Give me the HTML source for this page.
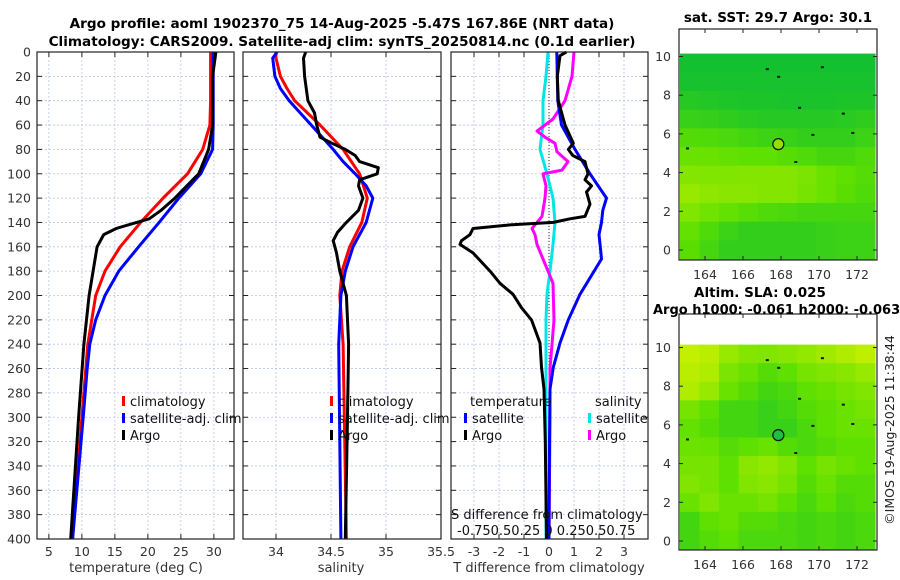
<!DOCTYPE html>
<html><head><meta charset="utf-8">
<style>
html,body{margin:0;padding:0;background:#fff;}
svg{display:block;font-family:"DejaVu Sans","Liberation Sans",sans-serif;}
</style></head>
<body>
<svg id="fig" width="900" height="580" viewBox="0 0 900 580" xmlns="http://www.w3.org/2000/svg">
<rect width="900" height="580" fill="#fff"/>
<text x="342" y="28" text-anchor="middle" font-size="13.6" font-weight="bold" fill="#000">Argo profile: aoml 1902370_75 14-Aug-2025 -5.47S 167.86E (NRT data)</text>
<text x="342" y="46" text-anchor="middle" font-size="13.6" font-weight="bold" fill="#000">Climatology: CARS2009. Satellite-adj clim: synTS_20250814.nc (0.1d earlier)</text>
<g id="panels"></g>
<g id="maps"></g>
<text transform="translate(894,430) rotate(-90)" text-anchor="middle" font-size="12.5" fill="#222">©IMOS 19-Aug-2025 11:38:44</text>
</svg>
<script>
// ---------- data ----------
const depthTicks=[0,20,40,60,80,100,120,140,160,180,200,220,240,260,280,300,320,340,360,380,400];
const tempTicks=[5,10,15,20,25,30];
const salTicks=[34,34.5,35,35.5];
const tdiffTicks=[-3,-2,-1,0,1,2,3];

const climTdepth=[0,20,40,60,80,100,120,140,160,180,200,240,300,400];
const climT=[29.5,29.5,29.5,29.4,28.3,26.0,22.3,18.9,15.8,13.5,12.1,10.9,10.0,8.6];
const satTdepth=[0,20,40,60,80,100,120,140,160,180,200,220,240,260,300,400];
const satT=[29.9,29.9,29.9,29.9,29.8,28.0,24.7,21.7,18.6,15.6,13.5,12.1,11.2,10.8,10.2,8.6];
const argoTdepth=[0,20,40,60,80,100,120,130,137,142,145,150,160,180,200,240,300,400];
const argoT=[30.3,29.8,29.8,29.8,29.2,27.7,24.1,22.0,20.2,17.0,15.2,13.3,12.3,11.7,11.1,10.3,9.5,8.3];

const climSdepth=[0,5,20,30,40,60,80,100,120,140,160,180,200,240,400];
const climS=[34.0,34.0,34.04,34.1,34.17,34.4,34.61,34.76,34.83,34.78,34.67,34.6,34.58,34.61,34.64];
const satSdepth=[0,5,20,30,40,60,80,90,100,110,120,140,160,180,200,240,400];
const satS=[34.01,33.97,33.99,34.04,34.12,34.32,34.52,34.61,34.72,34.82,34.88,34.82,34.7,34.63,34.59,34.57,34.59];
const argoSdepth=[0,5,20,40,50,60,70,75,80,85,90,95,100,105,110,120,130,140,148,155,165,180,200,240,300,400];
const argoS=[34.27,34.25,34.26,34.29,34.35,34.37,34.4,34.51,34.63,34.72,34.76,34.93,34.92,34.76,34.75,34.79,34.75,34.64,34.56,34.52,34.55,34.58,34.64,34.66,34.65,34.63];

const dTdepth=[0,3,20,40,60,75,80,85,90,100,105,110,115,125,135,137,140,142,145,150,155,158,165,180,190,199,210,220,239,259,277,320,400];
const dTargo=[0.7,0.44,0.33,0.37,0.64,0.97,0.77,0.95,1.44,1.56,1.44,1.7,1.5,1.64,1.44,0.84,0.17,-1.56,-3.04,-3.16,-3.5,-3.56,-3.04,-2.36,-1.96,-1.44,-1.1,-0.7,-0.36,-0.3,-0.2,-0.15,-0.1];
const dTsatDepth=[0,40,60,80,100,120,130,140,150,160,170,199,220,239,259,277,320,400];
const dTsat=[0.31,0.35,0.5,1.04,1.64,2.3,2.15,2.1,2.0,2.05,2.1,1.24,0.77,0.44,0.17,0.04,0.02,0.0];
const dSsatDepth=[0,20,40,60,80,100,120,140,158,180,199,220,260,300,400];
const dSsat=[-0.01,-0.03,-0.06,-0.06,-0.09,-0.02,0.04,0.06,0.04,0.01,-0.02,-0.03,-0.03,-0.03,-0.03];
const dSargoDepth=[0,20,40,55,65,70,75,82,90,97,100,110,120,135,140,145,150,158,170,180,190,220,240,260,300,400];
const dSargo=[0.25,0.23,0.16,0.04,-0.12,-0.04,0.06,0.08,0.19,0.13,-0.06,-0.03,-0.04,-0.07,-0.12,-0.17,-0.14,-0.12,-0.06,-0.01,0.04,0.05,0.03,0.01,0.01,0.0];

// map grids (0 = dark green, 1 = yellow), rows from lat 10 downward
const sstGrid=[
[0.1,0.1,0.1,0.1,0.1,0.1,0.1,0.1,0.1,0.1],
[0.12,0.12,0.12,0.12,0.12,0.12,0.12,0.12,0.12,0.12],
[0.2,0.18,0.16,0.15,0.15,0.14,0.14,0.14,0.15,0.15],
[0.3,0.28,0.25,0.22,0.2,0.2,0.2,0.2,0.22,0.25],
[0.44,0.42,0.4,0.36,0.33,0.3,0.27,0.27,0.27,0.32],
[0.55,0.55,0.52,0.5,0.5,0.46,0.42,0.38,0.38,0.42],
[0.66,0.64,0.64,0.66,0.66,0.66,0.62,0.55,0.5,0.45],
[0.74,0.7,0.68,0.68,0.66,0.66,0.6,0.55,0.48,0.42],
[0.64,0.58,0.52,0.47,0.42,0.4,0.37,0.37,0.37,0.37],
[0.52,0.42,0.32,0.27,0.27,0.27,0.27,0.3,0.32,0.32],
[0.48,0.37,0.27,0.27,0.27,0.27,0.27,0.3,0.32,0.32]];
const slaGrid=[
[0.92,0.88,0.74,0.66,0.64,0.68,0.72,0.78,0.84,0.9],
[0.88,0.84,0.62,0.55,0.45,0.5,0.6,0.64,0.68,0.74],
[0.84,0.74,0.55,0.45,0.36,0.4,0.5,0.55,0.6,0.64],
[0.6,0.5,0.36,0.36,0.3,0.36,0.45,0.5,0.55,0.6],
[0.52,0.45,0.36,0.36,0.3,0.3,0.4,0.5,0.55,0.55],
[0.56,0.55,0.45,0.5,0.55,0.45,0.4,0.45,0.5,0.5],
[0.6,0.6,0.5,0.68,0.72,0.64,0.5,0.6,0.55,0.5],
[0.64,0.6,0.5,0.64,0.68,0.6,0.45,0.55,0.45,0.45],
[0.55,0.64,0.55,0.55,0.6,0.5,0.4,0.5,0.4,0.45],
[0.36,0.5,0.55,0.45,0.45,0.4,0.36,0.4,0.36,0.4],
[0.36,0.45,0.5,0.4,0.4,0.4,0.36,0.4,0.36,0.4]];
const lonTicks=[164,166,168,170,172];
const latTicks=[0,2,4,6,8,10];
const argoLon=[167.86], argoLat=[5.47];

// ---------- drawing ----------
const NS='http://www.w3.org/2000/svg';
function el(tag,attrs,parent,txt){const e=document.createElementNS(NS,tag);for(const k in attrs)e.setAttribute(k,attrs[k]);if(txt!==undefined)e.textContent=txt;parent.appendChild(e);return e;}
const panels=document.getElementById('panels');
const Y0=52,Y1=539;
const yD=d=>Y0+(d/400)*(Y1-Y0);

function panel(name,x0,x1,vmin,vmax,ticks,fmt,showY){
  const g=el('g',{},panels);
  
  
  const sx=v=>x0+(v-vmin)/(vmax-vmin)*(x1-x0);
  ticks.forEach(t=>{const x=sx(t);if(x>x0+1&&x<x1-1){const l=el('line',{x1:x,x2:x,y1:Y0,y2:Y1,stroke:'#b9c2ea','stroke-width':0.8,'stroke-dasharray':'2,2'},g);}});
  depthTicks.forEach(d=>{const y=yD(d);if(d>0&&d<400){const l=el('line',{x1:x0,x2:x1,y1:y,y2:y,stroke:'#b9c2ea','stroke-width':0.8,'stroke-dasharray':'2,2'},g);}
    el('line',{x1:x0,x2:x0+5,y1:y,y2:y,stroke:'#222','stroke-width':1},g);el('line',{x1:x1-5,x2:x1,y1:y,y2:y,stroke:'#222','stroke-width':1},g);
    if(showY){const t=el('text',{x:x0-6,y:y+4.5,'text-anchor':'end','font-size':12.5,fill:'#333'},g,String(d));}
  });
  ticks.forEach(t=>{const x=sx(t);el('line',{x1:x,x2:x,y1:Y1,y2:Y1-5,stroke:'#222'},g);el('line',{x1:x,x2:x,y1:Y0,y2:Y0+5,stroke:'#222'},g);
    const tx=el('text',{x:x,y:Y1+17,'text-anchor':'middle','font-size':12.5,fill:'#333'},g,fmt(t));});
  return {g,sx};
}
function series(p,dep,vals,color,name,w){
  const pts=dep.map((d,i)=>p.sx(vals[i]).toFixed(1)+','+yD(d).toFixed(1)).join(' ');
  const pl=el('polyline',{points:pts,fill:'none',stroke:color,'stroke-width':w||3,'stroke-linejoin':'round'},p.g);
  
  
}
function frame(p,x0,x1){el('rect',{x:x0,y:Y0,width:x1-x0,height:Y1-Y0,fill:'none',stroke:'#222','stroke-width':1.2},p.g);}
function legendItem(g,x,y,color,label,name){
  el('rect',{x:x,y:y-10,width:3,height:10,fill:color},g);
  const t=el('text',{x:x+8,y:y,'font-size':13,fill:'#111'},g,label);
  
  
}

// Panel 1 temperature
const p1=panel('temperature-panel',37,234,3.2,33.05,tempTicks,String,true);
series(p1,climTdepth,climT,'#ff0000','climatology-temp-line');
series(p1,satTdepth,satT,'#0000ff','satellite-temp-line');
series(p1,argoTdepth,argoT,'#000000','argo-temp-line');
frame(p1,37,234);
legendItem(p1.g,122,406,'#ff0000','climatology','legend-climatology');
legendItem(p1.g,122,423,'#0000ff','satellite-adj. clim','legend-satellite');
legendItem(p1.g,122,440,'#000000','Argo','legend-argo');
el('text',{x:136,y:572,'text-anchor':'middle','font-size':13,fill:'#333',},p1.g,'temperature (deg C)');

// Panel 2 salinity
const p2=panel('salinity-panel',243,441,33.7,35.5,salTicks,String,false);
series(p2,climSdepth,climS,'#ff0000','climatology-sal-line');
series(p2,satSdepth,satS,'#0000ff','satellite-sal-line');
series(p2,argoSdepth,argoS,'#000000','argo-sal-line');
frame(p2,243,441);
legendItem(p2.g,330,406,'#ff0000','climatology','legend-climatology-2');
legendItem(p2.g,330,423,'#0000ff','satellite-adj. clim','legend-satellite-2');
legendItem(p2.g,330,440,'#000000','Argo','legend-argo-2');
el('text',{x:341,y:572,'text-anchor':'middle','font-size':13,fill:'#333',},p2.g,'salinity');

// Panel 3 differences
const p3=panel('difference-panel',451,648,-3.92,3.96,tdiffTicks,String,false);
el('line',{x1:p3.sx(0),x2:p3.sx(0),y1:Y0,y2:Y1,stroke:'#333','stroke-width':1,'stroke-dasharray':'1,2'},p3.g);
const p3s={g:p3.g,sx:v=>p3.sx(v*4)};
series(p3s,dSsatDepth,dSsat,'#00e5e5','satellite-sal-diff-line');
series(p3s,dSargoDepth,dSargo,'#ff00ff','argo-sal-diff-line');
series(p3,dTsatDepth,dTsat,'#0000ff','satellite-temp-diff-line');
series(p3,dTdepth,dTargo,'#000000','argo-temp-diff-line');
frame(p3,451,648);
el('text',{x:470,y:406,'font-size':13,fill:'#111',},p3.g,'temperature');
legendItem(p3.g,464,423,'#0000ff','satellite','legend-temp-satellite');
legendItem(p3.g,464,440,'#000000','Argo','legend-temp-argo');
el('text',{x:595,y:406,'font-size':13,fill:'#111',},p3.g,'salinity');
legendItem(p3.g,588,423,'#00e5e5','satellite','legend-sal-satellite');
legendItem(p3.g,588,440,'#ff00ff','Argo','legend-sal-argo');
el('text',{x:451,y:519,'font-size':13,fill:'#111',},p3.g,'S difference from climatology');
el('text',{x:457,y:535,'font-size':13,fill:'#111',},p3.g,'-0.750.50.25 0  0.250.50.75');
el('text',{x:549,y:572,'text-anchor':'middle','font-size':13,fill:'#333',},p3.g,'T difference from climatology');

// ---------- maps ----------
const maps=document.getElementById('maps');
function cmap(v){
  const a=[0x00,0xb8,0x3c],b=[0x5e,0xe0,0x00],c=[0xd6,0xf2,0x00];
  let r;
  if(v<0.5){const t=v/0.5;r=a.map((x,i)=>Math.round(x+(b[i]-x)*t));}
  else{const t=(v-0.5)/0.5;r=b.map((x,i)=>Math.round(x+(c[i]-x)*t));}
  return 'rgb('+r.join(',')+')';
}
function drawMap(name,grid,yLat0,circleFill,frameTop,frameBot){
  const g=el('g',{},maps);
  
  
  const sxL=lon=>705+(lon-164)*19;
  const syL=lat=>yLat0-lat*19.35;
  const cw=(875-680)/10;
  const top=syL(10.15), bot=frameBot-1;
  const ch=(bot-top)/grid.length;
  grid.forEach((row,ri)=>row.forEach((v,ci)=>{
    const r=el('rect',{x:(680+ci*cw).toFixed(2),y:(top+ri*ch).toFixed(2),width:(cw+0.6).toFixed(2),height:(ch+0.6).toFixed(2),fill:cmap(v)},g);
    
    
  }));
  [[167.2,9.4],[168.9,7.4],[171.2,7.1],[169.6,6.0],[163.0,5.3],[168.7,4.6],[171.7,6.1],[167.8,9.0],[170.1,9.5]].forEach(p=>el('rect',{x:sxL(p[0]),y:syL(p[1]),width:3,height:2,fill:'#111'},g));
  el('rect',{x:679,y:frameTop,width:198,height:frameBot-frameTop,fill:'none',stroke:'#222','stroke-width':1.2},g);
  latTicks.forEach(l=>{const y=syL(l);el('line',{x1:679,x2:683,y1:y,y2:y,stroke:'#222'},g);el('line',{x1:873,x2:877,y1:y,y2:y,stroke:'#222'},g);
    const t=el('text',{x:671,y:y+4.5,'text-anchor':'end','font-size':12.5,fill:'#333'},g,String(l));});
  lonTicks.forEach(l=>{const x=sxL(l);el('line',{x1:x,x2:x,y1:frameBot,y2:frameBot-4,stroke:'#222'},g);el('line',{x1:x,x2:x,y1:frameTop,y2:frameTop+4,stroke:'#222'},g);
    const t=el('text',{x:x,y:frameBot+19,'text-anchor':'middle','font-size':12.5,fill:'#333'},g,String(l));});
  const c=el('circle',{cx:sxL(argoLon[0]),cy:syL(argoLat[0]),r:5.5,fill:circleFill,stroke:'#111','stroke-width':1.2},g);
  
  
}
drawMap('sst-map',sstGrid,250,'#90e000',29,260);
drawMap('sla-map',slaGrid,541,'#1ec040',314,550);
el('text',{x:778,y:22,'text-anchor':'middle','font-size':13.5,'font-weight':'bold',fill:'#000',},maps,'sat. SST: 29.7 Argo: 30.1');
el('text',{x:760,y:297,'text-anchor':'middle','font-size':13.5,'font-weight':'bold',fill:'#000',},maps,'Altim. SLA: 0.025');
el('text',{x:653,y:314,'font-size':13,'font-weight':'bold',fill:'#000',},maps,'Argo h1000: -0.061 h2000: -0.063');
</script>
</body></html>
